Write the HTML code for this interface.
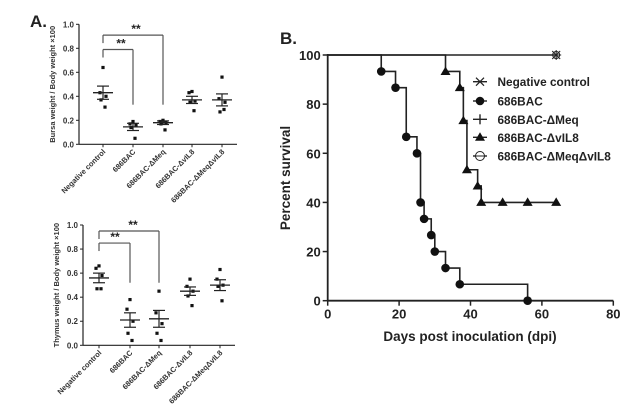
<!DOCTYPE html>
<html><head><meta charset="utf-8"><style>
html,body{margin:0;padding:0;background:#fff;}
svg{display:block;font-family:"Liberation Sans",Arial,sans-serif;font-weight:bold;}
</style></head><body>
<svg id="s" width="639" height="414" viewBox="0 0 639 414" xmlns="http://www.w3.org/2000/svg">
<rect width="639" height="414" fill="#fff"/>
<text x="30" y="27" font-size="17" fill="#222">A.</text>
<text x="280" y="44" font-size="17" fill="#222">B.</text>
</svg>
<script>
const s=document.getElementById('s');const NS='http://www.w3.org/2000/svg';
function el(t,a,txt){const e=document.createElementNS(NS,t);for(const k in a)e.setAttribute(k,a[k]);if(txt!==undefined)e.textContent=txt;s.appendChild(e);return e;}
function line(x1,y1,x2,y2,w,c){el('line',{x1,y1,x2,y2,stroke:c||'#222','stroke-width':w||1});}
const labels=['Negative control','686BAC','686BAC-ΔMeq','686BAC-ΔvIL8','686BAC-ΔMeqΔvIL8'];
function panel(ax,y0,yTop,xEnd,xs,data,br,ylab){
  const sc=(y0-yTop);const Y=v=>y0-v*sc;
  line(ax,yTop,ax,y0,1.2);line(ax,y0,xEnd,y0,1.2);
  for(let i=0;i<=5;i++){const v=i*0.2,y=Y(v);line(ax-3,y,ax,y,1);el('text',{x:ax-5,y:y+3,'font-size':8,'text-anchor':'end',fill:'#333'},v.toFixed(1));}
  el('text',{x:0,y:0,'font-size':7.5,'text-anchor':'middle',fill:'#333',transform:`translate(${ax-24},${(y0+yTop)/2}) rotate(-90)`},ylab);
  xs.forEach((x,i)=>{line(x,y0,x,y0+3,1);
    el('text',{x:0,y:0,'font-size':7.5,'text-anchor':'end',fill:'#333',transform:`translate(${x+3},${y0+8}) rotate(-45)`},labels[i]);
    const d=data[i];const pts=d[0];
    pts.forEach((v,j)=>{const off=[0,-3,3,-2,2][j];el('rect',{x:x+off-1.6,y:Y(v)-1.6,width:3.2,height:3.2,fill:'#111'});});
    const m=d[1],se=d[2];
    line(x-10,Y(m),x+10,Y(m),1.3);line(x-6,Y(m+se),x+6,Y(m+se),1.2);line(x-6,Y(m-se),x+6,Y(m-se),1.2);line(x,Y(m+se),x,Y(m-se),1.2);
  });
  br.forEach(b=>{const[x1,x2,yb,yd,sx]=b;line(x1,Y(yb),x2,Y(yb),1.2,'#555');line(x1,Y(yb),x1,Y(yb)+8,1.2,'#555');line(x2,Y(yb),x2,Y(yd),1.2,'#555');
    el('text',{x:sx,y:Y(yb)-2,'font-size':12,'text-anchor':'middle',fill:'#222'},'**');});
}
panel(79,144.3,24.3,237,[103,133,163,192,222],
 [[[.64,.43,.40,.37,.31],.43,.055],[[.19,.17,.16,.14,.05],.145,.03],[[.20,.19,.18,.17,.12],.18,.015],[[.44,.43,.36,.35,.28],.37,.03],[[.56,.38,.35,.27,.29],.37,.05]],
 [[103,133,.79,.33,121],[103,163,.91,.33,136]],'Bursa weight / Body weight ×100');
panel(83,345.3,225,235,[99,130,159,190,220],
 [[[.66,.64,.58,.47,.47],.56,.04],[[.38,.30,.20,.10,.04],.21,.06],[[.45,.27,.18,.10,.04],.22,.07],[[.55,.49,.45,.41,.33],.45,.035],[[.63,.55,.50,.49,.37],.50,.045]],
 [[99,130,.85,.52,115],[99,159,.95,.52,133]],'Thymus weight / Body weight ×100');
const X=d=>327.7+3.57*d,Y=p=>300.7-2.457*p;
line(X(0),Y(100)-1,X(0),Y(0),1.8);line(X(0),Y(0),X(80),Y(0),1.8);
[0,20,40,60,80].forEach(v=>{line(X(v),Y(0),X(v),Y(0)+5,1.5);el('text',{x:X(v),y:Y(0)+18,'font-size':13,'text-anchor':'middle',fill:'#222'},v);});
[0,20,40,60,80,100].forEach(v=>{line(X(0)-5,Y(v),X(0),Y(v),1.5);el('text',{x:X(0)-7,y:Y(v)+5,'font-size':13,'text-anchor':'end',fill:'#222'},v);});
el('text',{x:0,y:0,'font-size':13.5,'text-anchor':'middle',fill:'#222',transform:`translate(290,178) rotate(-90)`},'Percent survival');
el('text',{x:470,y:341,'font-size':13.5,'text-anchor':'middle',fill:'#222'},'Days post inoculation (dpi)');
function steps(pts,end){let d=`M${X(0)},${Y(100)}`;pts.forEach(([t,v])=>{d+=` H${X(t)} V${Y(v)}`;});d+=` H${X(end)}`;el('path',{d,fill:'none',stroke:'#222','stroke-width':1.6});}
line(X(0),Y(100),X(64),Y(100),1.6);
const bac=[[15,93.3],[19,86.7],[22,66.7],[25,60],[26,40],[27,33.3],[29,26.7],[30,20],[33,13.3],[37,6.7],[56,0]];
steps(bac,56);
bac.forEach(([t,v])=>el('circle',{cx:X(t),cy:Y(v),r:4.3,fill:'#111'}));
const il=[[33,93.3],[37,86.7],[38,73.3],[39,53.3],[42,46.7],[43,40]];
steps(il,64);
function tri(x,y){el('path',{d:`M${x},${y-5} L${x+5},${y+3.5} L${x-5},${y+3.5}Z`,fill:'#111'});}
il.forEach(([t,v])=>tri(X(t),Y(v)));[49,56,64].forEach(t=>tri(X(t),Y(40)));
const nx=X(64),ny=Y(100);
el('circle',{cx:nx,cy:ny,r:3.5,fill:'none',stroke:'#222','stroke-width':1});
line(nx-4,ny-4,nx+4,ny+4,1);line(nx-4,ny+4,nx+4,ny-4,1);line(nx-5,ny,nx+5,ny,1);line(nx,ny-5,nx,ny+5,1);
const ly=[81.7,101,119.3,137.3,156],lx=480;
const names=['Negative control','686BAC','686BAC-ΔMeq','686BAC-ΔvIL8','686BAC-ΔMeqΔvIL8'];
ly.forEach((y,i)=>{line(lx-7,y,lx+7,y,1.4);el('text',{x:497.5,y:y+4.5,'font-size':11.8,fill:'#222'},names[i]);});
line(lx-4,ly[0]-4,lx+4,ly[0]+4,1.2);line(lx-4,ly[0]+4,lx+4,ly[0]-4,1.2);
el('circle',{cx:lx,cy:ly[1],r:4.3,fill:'#111'});
line(lx,ly[2]-5,lx,ly[2]+5,1.4);
tri(lx,ly[3]);
el('circle',{cx:lx,cy:ly[4],r:4.5,fill:'#fff',stroke:'#222','stroke-width':1});line(lx-4.5,ly[4],lx+4.5,ly[4],1);
</script>
</body></html>
